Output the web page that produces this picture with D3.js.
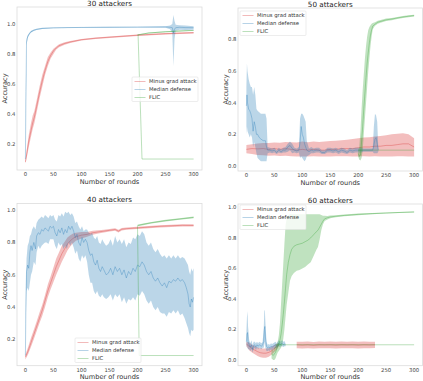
<!DOCTYPE html>
<html>
<head>
<meta charset="utf-8">
<script src="https://cdn.jsdelivr.net/npm/d3@7"></script>
<style>
  body { margin: 0; background: #fff; }
  svg { display: block; font-family: "DejaVu Sans", sans-serif; }
</style>
</head>
<body>
<div id="chart"></div>
<script>
// [round, mean, low, high]
const seriesNames = ["Minus grad attack", "Median defense", "FLIC"];
const xTicks = [0, 50, 100, 150, 200, 250, 300];

// 30 attackers
const red30 = [[0,0.08,0.07,0.09],[3,0.15,0.12,0.18],[6,0.22,0.18,0.26],[10,0.29,0.25,0.34],[13,0.34,0.30,0.39],[16,0.38,0.34,0.42],[20,0.45,0.41,0.49],[25,0.54,0.50,0.58],[30,0.62,0.58,0.66],[35,0.69,0.66,0.72],[40,0.75,0.72,0.78],[45,0.79,0.77,0.81],[50,0.82,0.80,0.835],[55,0.84,0.83,0.85],[60,0.855,0.845,0.865],[70,0.87,0.862,0.878],[80,0.88,0.873,0.887],[100,0.895,0.889,0.9],[125,0.905,0.9,0.91],[150,0.912,0.907,0.917],[200,0.925,0.92,0.93],[250,0.935,0.93,0.94],[300,0.942,0.937,0.947]];
const blue30 = [[0,0.1,0.08,0.12],[1,0.55,0.45,0.65],[2,0.88,0.86,0.9],[4,0.915,0.905,0.925],[7,0.935,0.928,0.942],[10,0.948,0.942,0.954],[15,0.958,0.953,0.963],[20,0.964,0.96,0.968],[30,0.97,0.966,0.974],[50,0.974,0.971,0.977],[100,0.977,0.974,0.98],[150,0.978,0.975,0.981],[200,0.979,0.976,0.982],[250,0.98,0.975,0.985],[258,0.978,0.965,0.99],[262,0.975,0.94,1.0],[264,0.94,0.72,1.06],[266,0.965,0.9,1.02],[268,0.975,0.955,0.995],[275,0.978,0.962,0.992],[285,0.976,0.96,0.99],[300,0.975,0.962,0.985]];
const green30 = [[200,0.927,0.925,0.93],[220,0.94,0.937,0.943],[250,0.948,0.945,0.951],[275,0.953,0.95,0.956],[300,0.957,0.954,0.96]];
const greenLow30 = [[201,0.927],[208,0.1],[300,0.1]];

// 50 attackers
const red50 = [[0,0.105,0.08,0.133],[10,0.11,0.075,0.138],[20,0.108,0.07,0.142],[30,0.11,0.068,0.146],[40,0.105,0.065,0.145],[50,0.11,0.066,0.148],[60,0.105,0.063,0.147],[70,0.11,0.064,0.152],[80,0.105,0.062,0.15],[90,0.1,0.06,0.148],[100,0.105,0.06,0.154],[110,0.1,0.06,0.15],[120,0.105,0.062,0.155],[130,0.1,0.06,0.152],[140,0.1,0.06,0.155],[150,0.105,0.06,0.158],[160,0.105,0.062,0.16],[170,0.11,0.062,0.163],[180,0.11,0.061,0.166],[190,0.11,0.06,0.17],[200,0.115,0.06,0.175],[210,0.12,0.062,0.18],[220,0.12,0.06,0.182],[230,0.125,0.062,0.186],[240,0.125,0.06,0.19],[250,0.13,0.06,0.195],[260,0.13,0.06,0.2],[270,0.135,0.062,0.204],[280,0.14,0.062,0.207],[290,0.14,0.06,0.2],[300,0.12,0.06,0.175]];
const blue50 = [[0,0.38,0.2,0.5],[1,0.45,0.25,0.65],[2,0.4,0.22,0.6],[4,0.36,0.2,0.55],[6,0.35,0.18,0.52],[8,0.33,0.2,0.5],[10,0.3,0.18,0.5],[12,0.22,0.12,0.45],[14,0.28,0.15,0.5],[16,0.25,0.12,0.45],[18,0.2,0.08,0.36],[20,0.2,0.05,0.35],[23,0.18,0.04,0.34],[26,0.17,0.03,0.33],[30,0.16,0.03,0.33],[34,0.16,0.03,0.33],[36,0.12,0.03,0.3],[38,0.1,0.08,0.12],[42,0.1,0.085,0.115],[46,0.095,0.08,0.11],[50,0.1,0.085,0.115],[54,0.085,0.075,0.1],[58,0.1,0.085,0.115],[62,0.09,0.08,0.105],[66,0.1,0.085,0.115],[70,0.1,0.085,0.12],[74,0.12,0.09,0.14],[78,0.13,0.1,0.155],[82,0.11,0.08,0.14],[86,0.1,0.085,0.115],[90,0.095,0.08,0.11],[94,0.1,0.085,0.12],[96,0.15,0.05,0.3],[98,0.25,0.06,0.33],[100,0.2,0.05,0.33],[102,0.18,0.04,0.32],[104,0.14,0.03,0.3],[106,0.12,0.04,0.28],[108,0.1,0.06,0.16],[112,0.09,0.07,0.11],[116,0.1,0.08,0.12],[120,0.095,0.08,0.11],[125,0.1,0.085,0.115],[130,0.1,0.085,0.115],[135,0.085,0.075,0.1],[140,0.085,0.075,0.1],[145,0.1,0.085,0.115],[150,0.1,0.085,0.115],[155,0.095,0.08,0.11],[160,0.1,0.085,0.115],[165,0.09,0.075,0.105],[170,0.1,0.085,0.115],[175,0.095,0.08,0.11],[180,0.085,0.075,0.1],[185,0.1,0.085,0.115],[190,0.095,0.08,0.11],[195,0.1,0.085,0.115],[200,0.1,0.085,0.115],[205,0.1,0.085,0.115],[210,0.1,0.09,0.11],[220,0.1,0.09,0.11],[226,0.1,0.09,0.11],[228,0.13,0.08,0.25],[230,0.17,0.08,0.33],[232,0.18,0.08,0.32],[234,0.14,0.08,0.28],[236,0.1,0.09,0.11]];
const green50 = [[200,0.08,0.06,0.1],[202,0.06,0.04,0.12],[204,0.07,0.035,0.22],[206,0.15,0.05,0.36],[208,0.25,0.1,0.48],[210,0.36,0.2,0.58],[212,0.46,0.3,0.68],[214,0.56,0.4,0.76],[216,0.65,0.5,0.82],[218,0.72,0.6,0.86],[220,0.78,0.68,0.88],[222,0.83,0.76,0.89],[224,0.86,0.82,0.9],[226,0.885,0.865,0.905],[230,0.897,0.887,0.91],[235,0.91,0.9,0.92],[240,0.915,0.906,0.924],[250,0.925,0.917,0.933],[260,0.93,0.923,0.937],[270,0.937,0.931,0.943],[280,0.943,0.937,0.949],[290,0.948,0.942,0.954],[300,0.952,0.946,0.958]];
const greenLow50 = [[200,0.1],[300,0.1]];

// 40 attackers
const red40 = [[0,0.09,0.075,0.105],[5,0.13,0.11,0.155],[10,0.18,0.155,0.21],[15,0.23,0.2,0.26],[20,0.28,0.25,0.31],[25,0.33,0.3,0.365],[30,0.38,0.345,0.415],[35,0.44,0.4,0.475],[40,0.5,0.46,0.54],[45,0.55,0.51,0.59],[50,0.6,0.555,0.645],[55,0.65,0.6,0.7],[60,0.69,0.64,0.74],[65,0.73,0.68,0.78],[70,0.76,0.715,0.805],[75,0.79,0.75,0.83],[80,0.81,0.775,0.845],[85,0.825,0.795,0.855],[90,0.835,0.81,0.86],[100,0.845,0.825,0.865],[110,0.85,0.835,0.865],[120,0.86,0.848,0.872],[130,0.865,0.855,0.875],[140,0.87,0.861,0.879],[150,0.875,0.867,0.883],[160,0.88,0.872,0.888],[166,0.87,0.862,0.878],[172,0.882,0.874,0.89],[180,0.885,0.878,0.892],[200,0.89,0.883,0.897],[220,0.895,0.888,0.902],[240,0.9,0.893,0.907],[260,0.903,0.896,0.91],[280,0.906,0.899,0.913],[300,0.905,0.898,0.912]];
const blue40 = [[0,0.1,0.09,0.11],[1,0.45,0.35,0.55],[2,0.62,0.5,0.7],[4,0.66,0.52,0.78],[6,0.64,0.5,0.8],[8,0.74,0.55,0.84],[10,0.78,0.6,0.85],[12,0.75,0.62,0.88],[15,0.8,0.68,0.9],[18,0.76,0.66,0.88],[20,0.84,0.74,0.92],[23,0.86,0.78,0.94],[26,0.85,0.76,0.95],[29,0.88,0.78,0.96],[32,0.87,0.79,0.95],[35,0.89,0.8,0.97],[38,0.88,0.8,0.96],[41,0.87,0.79,0.95],[44,0.9,0.82,0.97],[47,0.89,0.82,0.96],[50,0.9,0.82,0.97],[53,0.86,0.78,0.94],[56,0.84,0.76,0.93],[59,0.88,0.8,0.97],[62,0.86,0.78,0.96],[65,0.89,0.79,0.98],[68,0.85,0.76,0.96],[71,0.88,0.78,0.99],[74,0.86,0.76,0.98],[77,0.9,0.8,0.99],[80,0.88,0.78,0.97],[83,0.9,0.8,0.98],[86,0.87,0.77,0.96],[89,0.83,0.73,0.92],[92,0.85,0.75,0.93],[95,0.8,0.7,0.9],[98,0.78,0.68,0.88],[101,0.83,0.72,0.9],[104,0.8,0.7,0.87],[107,0.82,0.72,0.88],[110,0.8,0.68,0.88],[113,0.75,0.6,0.86],[116,0.72,0.55,0.85],[119,0.73,0.55,0.86],[122,0.68,0.5,0.83],[125,0.66,0.48,0.82],[128,0.69,0.5,0.84],[131,0.64,0.47,0.8],[134,0.62,0.46,0.79],[137,0.65,0.48,0.82],[140,0.63,0.46,0.8],[144,0.6,0.45,0.78],[148,0.61,0.46,0.79],[152,0.64,0.48,0.82],[156,0.6,0.44,0.78],[160,0.65,0.48,0.84],[164,0.62,0.46,0.8],[168,0.64,0.48,0.82],[172,0.6,0.43,0.79],[176,0.63,0.46,0.82],[180,0.58,0.42,0.77],[184,0.62,0.45,0.8],[188,0.6,0.44,0.79],[192,0.64,0.46,0.83],[196,0.62,0.44,0.82],[200,0.66,0.48,0.85],[204,0.65,0.47,0.84],[208,0.68,0.5,0.87],[212,0.66,0.48,0.85],[216,0.62,0.44,0.8],[220,0.6,0.42,0.78],[224,0.62,0.44,0.8],[228,0.58,0.4,0.76],[232,0.56,0.38,0.74],[236,0.58,0.4,0.76],[240,0.55,0.37,0.73],[244,0.53,0.36,0.71],[248,0.55,0.36,0.72],[252,0.52,0.34,0.7],[256,0.56,0.37,0.72],[260,0.55,0.36,0.7],[264,0.57,0.38,0.72],[268,0.56,0.36,0.7],[272,0.58,0.38,0.72],[276,0.56,0.35,0.7],[280,0.57,0.36,0.71],[284,0.55,0.33,0.7],[287,0.52,0.3,0.68],[290,0.48,0.27,0.66],[292,0.42,0.24,0.62],[294,0.4,0.22,0.6],[296,0.45,0.26,0.64],[298,0.43,0.25,0.62],[300,0.46,0.26,0.64]];
const green40 = [[200,0.905,0.9,0.91],[210,0.912,0.907,0.917],[225,0.922,0.917,0.927],[250,0.935,0.93,0.94],[275,0.945,0.94,0.95],[300,0.955,0.95,0.96]];
const greenLow40 = [[200,0.9],[203,0.1],[300,0.1]];

// 60 attackers
const red60 = [[0,0.105,0.09,0.12],[5,0.09,0.065,0.115],[10,0.075,0.05,0.1],[15,0.065,0.038,0.092],[20,0.055,0.027,0.083],[25,0.048,0.018,0.078],[30,0.045,0.015,0.075],[35,0.045,0.015,0.075],[40,0.05,0.022,0.078],[45,0.06,0.035,0.085],[50,0.075,0.052,0.098],[55,0.09,0.072,0.108],[58,0.1,0.09,0.11],[null],[90,0.1,0.078,0.12],[100,0.098,0.076,0.12],[110,0.1,0.078,0.122],[120,0.097,0.075,0.119],[130,0.1,0.078,0.121],[140,0.099,0.077,0.12],[150,0.1,0.078,0.122],[160,0.098,0.076,0.12],[170,0.1,0.078,0.121],[180,0.099,0.077,0.12],[190,0.1,0.078,0.122],[200,0.098,0.076,0.12],[210,0.1,0.078,0.121],[220,0.099,0.077,0.12],[230,0.1,0.079,0.12]];
const blue60 = [[0,0.12,0.08,0.18],[1,0.17,0.1,0.28],[2,0.18,0.08,0.32],[3,0.12,0.07,0.22],[5,0.1,0.07,0.13],[7,0.085,0.06,0.11],[9,0.1,0.07,0.13],[11,0.07,0.05,0.1],[13,0.095,0.07,0.12],[15,0.1,0.08,0.12],[17,0.085,0.065,0.11],[19,0.1,0.08,0.12],[21,0.09,0.07,0.11],[23,0.1,0.08,0.12],[25,0.095,0.075,0.115],[27,0.09,0.07,0.11],[29,0.1,0.08,0.12],[31,0.12,0.08,0.2],[32,0.2,0.1,0.32],[33,0.22,0.12,0.33],[34,0.15,0.08,0.25],[36,0.09,0.06,0.12],[38,0.08,0.06,0.1],[40,0.085,0.065,0.105],[42,0.08,0.06,0.1],[44,0.09,0.07,0.11],[46,0.085,0.065,0.105],[48,0.09,0.07,0.11],[50,0.095,0.075,0.115],[52,0.1,0.08,0.12],[54,0.09,0.075,0.11],[56,0.1,0.085,0.12],[58,0.11,0.09,0.13],[60,0.1,0.085,0.12],[62,0.105,0.09,0.125],[64,0.11,0.09,0.13],[66,0.1,0.085,0.12],[68,0.105,0.09,0.125],[70,0.1,0.09,0.11]];
const green60 = [[45,0.04,0.01,0.07],[48,0.03,0.0,0.06],[50,0.04,0.0,0.08],[52,0.05,0.01,0.09],[54,0.07,0.03,0.1],[56,0.09,0.05,0.12],[58,0.1,0.06,0.16],[60,0.13,0.07,0.24],[62,0.17,0.08,0.37],[64,0.23,0.1,0.5],[66,0.3,0.14,0.63],[68,0.38,0.2,0.76],[70,0.47,0.28,0.88],[72,0.56,0.36,0.93],[75,0.64,0.44,0.95],[78,0.69,0.52,0.955],[81,0.725,0.55,0.955],[85,0.745,0.57,0.955],[90,0.755,0.585,0.955],[95,0.76,0.59,0.955],[100,0.765,0.6,0.955],[105,0.775,0.61,0.955],[110,0.785,0.625,0.955],[115,0.8,0.64,0.955],[120,0.82,0.68,0.955],[125,0.84,0.72,0.955],[128,0.85,0.74,0.955],[131,0.87,0.79,0.955],[134,0.89,0.85,0.95],[137,0.91,0.89,0.945],[140,0.925,0.91,0.945],[145,0.932,0.92,0.944],[150,0.937,0.928,0.946],[160,0.942,0.935,0.949],[175,0.947,0.941,0.953],[200,0.954,0.949,0.959],[225,0.959,0.955,0.963],[250,0.963,0.959,0.967],[275,0.967,0.963,0.97],[300,0.97,0.967,0.973]];
const greenLow60 = [[52,0.1],[300,0.1]];

const colors = ["#d62728", "#1f77b4", "#2ca02c"];

const panels = [
  { title: "30 attackers", series: [red30, blue30, green30], low: greenLow30,
    frame: [17, 202, 7, 170], yDomain: [0.027, 1.113], yTicks: [0.2, 0.4, 0.6, 0.8, 1.0],
    legend: [132, 77] },
  { title: "50 attackers", series: [red50, blue50, green50], low: greenLow50,
    frame: [238, 422.5, 8, 171], yDomain: [-0.032, 1.0], yTicks: [0.0, 0.2, 0.4, 0.6, 0.8],
    legend: [240, 11] },
  { title: "40 attackers", series: [red40, blue40, green40], low: greenLow40,
    frame: [17, 202, 203.5, 365.7], yDomain: [0.037, 1.041], yTicks: [0.2, 0.4, 0.6, 0.8, 1.0],
    legend: [75, 338] },
  { title: "60 attackers", series: [red60, blue60, green60], low: greenLow60,
    frame: [238, 422.5, 204, 365.7], yDomain: [-0.037, 1.022], yTicks: [0.0, 0.2, 0.4, 0.6, 0.8, 1.0],
    legend: [240, 205] }
];

const svg = d3.select("#chart").append("svg")
  .attr("width", 423)
  .attr("height", 381);

panels.forEach((p, pi) => {
  const [x0, x1, y0, y1] = p.frame;
  const x = d3.scaleLinear().domain([-15, 315]).range([x0, x1]);
  const y = d3.scaleLinear().domain(p.yDomain).range([y1, y0]);
  const g = svg.append("g");

  g.append("clipPath").attr("id", "clip" + pi)
    .append("rect").attr("x", x0).attr("y", y0).attr("width", x1 - x0).attr("height", y1 - y0);

  const plot = g.append("g").attr("clip-path", `url(#clip${pi})`);

  const area = d3.area()
    .defined(d => d[0] != null)
    .x(d => x(d[0])).y0(d => y(d[2])).y1(d => y(d[3]));
  const line = d3.line()
    .defined(d => d[0] != null)
    .x(d => x(d[0])).y(d => y(d[1]));

  p.series.forEach((s, i) => {
    plot.append("path").attr("d", area(s))
      .attr("fill", colors[i]).attr("fill-opacity", 0.3);
    plot.append("path").attr("d", line(s))
      .attr("fill", "none").attr("stroke", colors[i])
      .attr("stroke-opacity", 0.38).attr("stroke-width", 0.85);
  });
  plot.append("path").attr("d", line(p.low))
    .attr("fill", "none").attr("stroke", colors[2])
    .attr("stroke-opacity", 0.38).attr("stroke-width", 0.85);

  // frame
  g.append("rect").attr("x", x0).attr("y", y0).attr("width", x1 - x0).attr("height", y1 - y0)
    .attr("fill", "none").attr("stroke", "#dcdcdc").attr("stroke-width", 0.8);

  // ticks
  g.selectAll(".xt").data(xTicks).join("text")
    .attr("x", d => x(d)).attr("y", y1 + 6)
    .attr("text-anchor", "middle").attr("font-size", 5.3).attr("fill", "#444")
    .text(d => d);
  g.selectAll(".yt").data(p.yTicks).join("text")
    .attr("x", x0 - 1.5).attr("y", d => y(d) + 1.9)
    .attr("text-anchor", "end").attr("font-size", 5.3).attr("fill", "#444")
    .text(d => d.toFixed(1));

  // labels
  g.append("text")
    .attr("x", (x0 + x1) / 2).attr("y", y0 - 1.3)
    .attr("text-anchor", "middle").attr("font-size", 7.2).attr("fill", "#222")
    .text(p.title);
  g.append("text")
    .attr("x", (x0 + x1) / 2).attr("y", y1 + 13.5)
    .attr("text-anchor", "middle").attr("font-size", 6.6).attr("fill", "#333")
    .text("Number of rounds");
  g.append("text")
    .attr("transform", `translate(${x0 - 10.5},${(y0 + y1) / 2}) rotate(-90)`)
    .attr("text-anchor", "middle").attr("font-size", 6.6).attr("fill", "#333")
    .text("Accuracy");

  // legend
  const [lx, ly] = p.legend;
  const lg = g.append("g").attr("transform", `translate(${lx},${ly})`);
  lg.append("rect").attr("width", 66).attr("height", 24.5).attr("rx", 1)
    .attr("fill", "#fff").attr("fill-opacity", 0.8)
    .attr("stroke", "#e0e0e0").attr("stroke-width", 0.6);
  seriesNames.forEach((name, i) => {
    const yy = 4.5 + i * 8;
    lg.append("line").attr("x1", 2.5).attr("x2", 13.5).attr("y1", yy).attr("y2", yy)
      .attr("stroke", colors[i]).attr("stroke-opacity", 0.38).attr("stroke-width", 0.85);
    lg.append("text").attr("x", 17).attr("y", yy + 1.9)
      .attr("font-size", 5.3).attr("fill", "#333").text(name);
  });
});
</script>
</body>
</html>
